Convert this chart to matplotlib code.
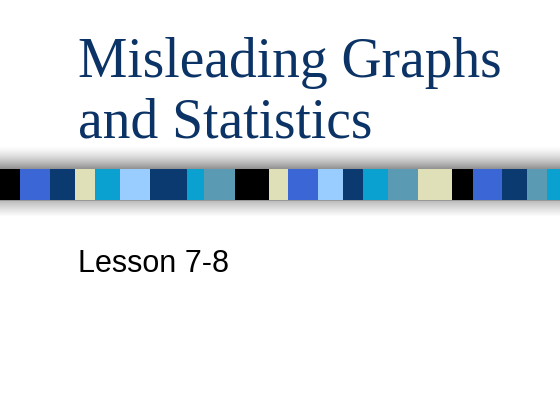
import numpy as np
import matplotlib
matplotlib.use("Agg")
import matplotlib.pyplot as plt

# Slide content
title_lines = ["Misleading Graphs", "and Statistics"]
subtitle = "Lesson 7-8"

# Decorative stripe band: left edges (px) and colours
stripe_left = [0, 20, 50, 75, 95, 120, 150, 187, 204, 235, 269, 288, 318, 343,
               363, 388, 418, 452, 473, 502, 527, 547]
stripe_right_end = 560
stripe_colors = ["#000000", "#3a66d6", "#0a3a70", "#e0e0b8", "#0aa0d0", "#99ccff",
                 "#0a3a70", "#0aa0d0", "#5a9ab2", "#000000", "#e0e0b8", "#3a66d6",
                 "#99ccff", "#0a3a70", "#0aa0d0", "#5a9ab2", "#e0e0b8", "#000000",
                 "#3a66d6", "#0a3a70", "#5a9ab2", "#0aa0d0"]

W, H = 560, 420
fig = plt.figure(figsize=(W / 100, H / 100), dpi=100)
ax = fig.add_axes([0, 0, 1, 1])
ax.set_xlim(0, W)
ax.set_ylim(H, 0)
ax.axis("off")
fig.patch.set_facecolor("white")

# gray shadow gradient around the band
ys = np.arange(145, 225)
prof = np.ones_like(ys, dtype=float)
for i, y in enumerate(ys):
    if y < 169:
        t = (y - 145) / (169 - 145)
        prof[i] = 1.0 - 0.45 * t ** 1.5
    elif y <= 200:
        prof[i] = 0.6
    else:
        t = (y - 200) / (216 - 200)
        prof[i] = min(1.0, 0.72 + 0.28 * t ** 0.9)
img = np.repeat(prof[:, None], 10, axis=1)
ax.imshow(img, cmap="gray", vmin=0, vmax=1, extent=[0, W, 225, 145],
          aspect="auto", interpolation="bilinear", zorder=1)

widths = np.diff(stripe_left + [stripe_right_end])
ax.bar(stripe_left, 31, width=widths, bottom=169, align="edge",
       color=stripe_colors, edgecolor="none", zorder=2)

ax.text(78, 77, title_lines[0], fontsize=40, family="Liberation Serif",
        color="#0b3366", va="baseline", ha="left", zorder=3)
ax.text(78, 138, title_lines[1], fontsize=40, family="Liberation Serif",
        color="#0b3366", va="baseline", ha="left", zorder=3)
ax.text(78, 272, subtitle, fontsize=22, family="Liberation Sans",
        color="#000000", va="baseline", ha="left", zorder=3)

fig.savefig("out.png", dpi=100)
